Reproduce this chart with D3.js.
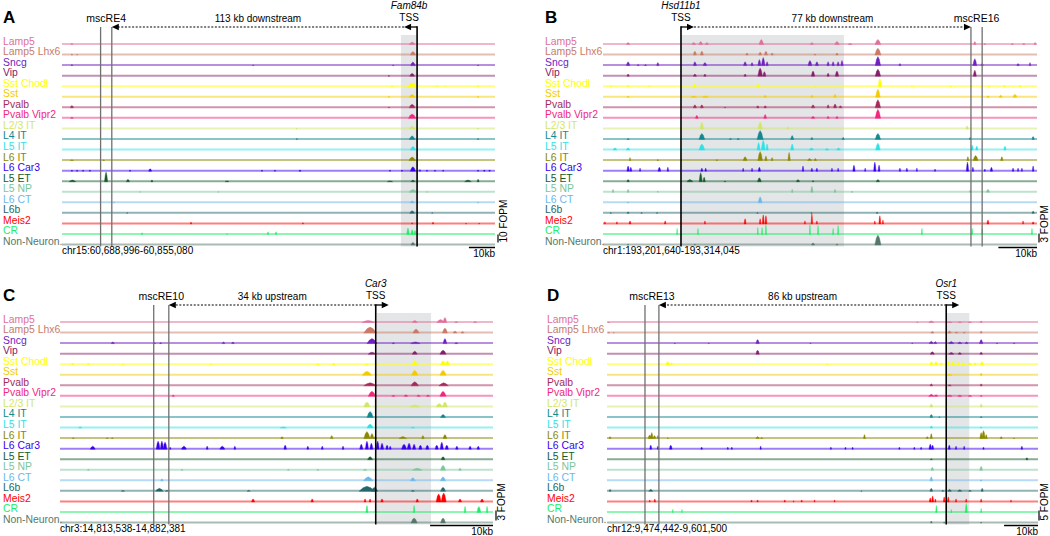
<!DOCTYPE html>
<html><head><meta charset="utf-8">
<script src="https://cdn.jsdelivr.net/npm/d3@7"></script>
<style>body{margin:0;background:#fff}svg{display:block}text{font-family:Arial,"Liberation Sans",sans-serif}</style>
</head><body><svg id="c" width="1050" height="536"></svg>
<script>
// ---------------- DATA ----------------
const trackNames = ["Lamp5","Lamp5 Lhx6","Sncg","Vip","Sst Chodl","Sst","Pvalb","Pvalb Vipr2","L2/3 IT","L4 IT","L5 IT","L6 IT","L6 Car3","L5 ET","L5 NP","L6 CT","L6b","Meis2","CR","Non-Neuron."];
const trackColors = ["#E0709A","#C97B68","#7020C0","#86206B","#FFFF00","#F2CC00","#A52A5A","#F0287F","#D2E66A","#13898E","#2EE3E8","#8A8800","#3A00EE","#135C2A","#7DC59A","#6CB8EC","#23676A","#FF0000","#1EEE64","#55786A"];
const panelLetters = ["A","B","C","D"];
const regionLabels = ["chr15:60,688,996-60,855,080","chr1:193,201,640-193,314,045","chr3:14,813,538-14,882,381","chr12:9,474,442-9,601,500"];
const regionStart = [60688996,193201640,14813538,9474442];
const regionEnd = [60855080,193314045,14882381,9601500];
const geneNames = ["Fam84b","Hsd11b1","Car3","Osr1"];
const tssKb = [136.2,20.2,50.2,100.0];
const geneStrand = [-1,1,1,1];
const mscreNames = ["mscRE4","mscRE16","mscRE10","mscRE13"];
const mscreKb = [[14.8,19.1],[95.3,98.2],[14.9,17.3],[11.2,15.3]];
const shadeKb = [[130.0,136.2],[20.2,62.4],[50.4,59.0],[100.0,106.8]];
const distanceLabels = ["113 kb downstream","77 kb downstream","34 kb upstream","86 kb upstream"];
const fopmScale = [10,3,3,5];
const scaleBarKb = 10;

// peaks: [position kb from region start, height FOPM, width kb]
const peaksA = {
"Lamp5":[[3.8,1.5,0.8],[134.3,3,2.2]],
"Lamp5 Lhx6":[[3.8,1.5,0.6],[5.8,1,0.5],[134.6,4.5,2]],
"Sncg":[[3.8,1.5,0.6],[73.3,1,0.5],[127,1,0.5],[134.6,4.5,1.8],[159.6,1,0.5]],
"Vip":[[125.4,1,0.5],[134.3,3.5,1.8]],
"Sst Chodl":[[126.6,1.5,0.6],[134.3,4.5,3.5],[143.9,1.5,0.6],[147,1,0.5],[159.6,1.5,0.6]],
"Sst":[[125.4,1.5,0.6],[134.3,3.5,2.2],[159.6,1.5,0.6]],
"Pvalb":[[3.8,3,1.2],[125.4,1,0.5],[134.3,4.5,2.2]],
"Pvalb Vipr2":[[3.8,1.5,1],[134.3,5.5,2.8]],
"L2/3 IT":[[90,1,0.5],[134.3,3.3,2.2],[159.6,1,0.5]],
"L4 IT":[[90.1,1.5,0.6],[134.3,4.5,2.2],[159.6,1.5,0.6]],
"L5 IT":[[134.6,4.5,2]],
"L6 IT":[[3.8,1,1.2],[16,1,0.6],[134.3,4.5,2.5]],
"L6 Car3":[[3.8,1.5,0.5],[5.8,1.5,0.5],[8.1,1.5,0.5],[10.7,1.5,0.5],[26.1,1.5,0.5],[33.8,3,1.2],[76.7,1.5,0.5],[81.7,1.5,0.5],[91.3,1.5,0.8],[125.8,1.5,0.4],[130.4,1.5,0.4],[134.6,5.5,2],[137.3,2,0.5],[140,1.5,0.4],[143.1,1.5,0.4],[146.2,1.5,0.4],[159.6,1.5,0.5],[162,1.5,0.5],[164,1.5,0.5]],
"L5 ET":[[4,2,2.5],[16.9,12,1.2],[25.3,3,1.2],[34.5,2,0.8],[63.3,1,1.5],[125.8,1,2],[134.6,2,1.5],[155.7,2,2.5],[159.6,3,0.8]],
"L5 NP":[[30,1,0.4],[60,1,0.4],[134.6,3.3,3],[140,1,0.4]],
"L6 CT":[[20,1,0.4],[134.3,2.2,1.5],[159.6,1,0.5]],
"L6b":[[25,1,0.4],[134.3,3.3,1.8],[142,1,0.4]],
"Meis2":[[49.5,2.2,0.6],[92.4,1.5,0.5],[134.3,1.5,0.5],[142.3,2.2,0.6],[155,1,0.4],[160,1,0.4]],
"CR":[[30.7,2.2,0.4],[63.3,1.2,0.3],[79,3.3,0.5],[82.1,3.3,0.5],[132.7,8,1],[134.3,6,1],[135.4,5,0.8]],
"Non-Neuron.":[[134.6,3.3,1.5]]
};
const peaksB = {
"Lamp5":[[6.5,0.7,0.8],[23.5,0.7,1],[25.3,1,1],[26.9,0.7,0.8],[41,1.7,1.2],[54.1,0.7,0.8],[60.6,1,1.2],[64,0.4,1],[71.2,1.7,1.5],[96.3,1,0.6],[98.9,0.4,0.4],[106,0.4,0.6],[109,0.4,0.6],[111.9,0.7,0.5]],
"Lamp5 Lhx6":[[23.8,1.3,0.8],[25.6,1.3,0.8],[37.3,0.7,0.6],[40.7,1,0.8],[42.2,1.3,0.8],[43.8,0.7,0.6],[54.9,0.4,0.5],[60.6,0.7,0.6],[71.2,2.3,1.6]],
"Sncg":[[6.5,1.3,0.9],[9.1,0.4,0.5],[11,0.4,0.5],[14.2,1,0.6],[23.8,1.3,0.8],[26.4,1,0.9],[36.8,1.3,0.8],[38.6,1,0.6],[40.5,2,0.8],[41.5,2.7,0.9],[42.5,1.3,0.6],[53.6,1.7,1],[55.4,1.3,0.8],[58.3,1.3,0.6],[59.6,1.3,0.6],[60.9,1.3,0.6],[61.9,1.7,0.6],[71.2,3,1.4],[76.9,0.7,0.5],[96.3,2.3,1],[98.2,0.7,0.6],[107.5,0.7,0.6],[110.6,1,0.4]],
"Vip":[[6.5,0.7,0.6],[23.8,0.7,0.8],[26.4,0.7,0.6],[36.8,0.7,0.6],[40.7,2.7,1.2],[41.8,1.5,0.8],[54.4,1.7,0.9],[58.3,1,0.6],[60.6,1.7,0.9],[71.2,2.3,1.4],[96.3,2,0.8]],
"Sst Chodl":[[2,0.4,0.4],[6.5,0.4,0.4],[12,0.3,0.4],[23.8,1,0.5],[40.1,1,0.6],[55,0.3,0.4],[71.7,2.7,0.9],[80,0.3,0.4],[90,0.3,0.4],[100,0.4,0.4],[104,0.4,0.4],[108,0.4,0.4]],
"Sst":[[6.5,0.4,0.6],[23.5,0.4,1.5],[26.5,0.4,1.5],[42,0.7,0.6],[54.1,0.7,0.6],[60.1,1,0.6],[71.2,2.7,1.2],[99.7,0.5,0.6],[103,0.7,0.8],[106.7,1,1]],
"Pvalb":[[23.8,1,0.8],[25.6,1,0.8],[31.6,0.3,0.4],[40.1,0.7,0.6],[42,0.7,0.6],[54.4,1,0.9],[58.3,1,0.6],[60.1,1.3,0.8],[61.5,0.7,0.6],[71.2,2.7,1.4]],
"Pvalb Vipr2":[[24.3,1,0.7],[42,1.3,0.7],[54.4,0.7,0.9],[58.3,0.7,0.6],[60.6,0.7,0.6],[71.2,3,1.4]],
"L2/3 IT":[[25.6,2.3,0.9],[40.7,2.3,1.2],[47.9,0.7,0.5],[94.3,1,0.6]],
"L4 IT":[[6.5,0.4,0.6],[25.6,2,1.5],[33,0.4,0.6],[35,0.4,0.6],[40.7,3,1.6],[49,1.3,0.8],[54.1,0.7,0.6],[62.2,0.7,0.6],[71.2,2,1.4],[95.1,0.7,0.5],[111.4,1,0.6]],
"L5 IT":[[3.1,0.7,1],[6.5,0.7,1],[25.6,2,1.5],[40.3,2.5,0.8],[41.5,3.3,1],[42.5,2,0.6],[49,2,0.8],[54,0.7,1],[58,0.5,1],[61,0.7,1],[71.2,2.3,1.2],[95.6,1.7,0.6],[96.8,1.3,0.6],[104.1,1.3,0.6]],
"L6 IT":[[7,1,0.4],[14.2,0.4,0.4],[29.5,0.4,0.4],[36.8,1.3,1],[40.7,3,1.2],[42.2,1.5,0.6],[43.8,1,0.5],[48.2,2.7,0.6],[53.5,0.7,1],[55,0.7,0.6],[94.5,1.3,0.5],[96.5,1.7,1.3],[103.3,1.3,0.6]],
"L6 Car3":[[6.5,1.7,0.6],[7.2,1.3,0.5],[9.6,1,0.3],[14.6,1.3,0.7],[16.8,1.3,0.4],[25.6,1,0.5],[26.6,1,0.4],[36.3,1,0.3],[38.6,1,0.3],[40.5,1.3,0.6],[51.8,1.7,0.4],[54.1,1,0.4],[55.4,1,0.4],[59.3,1,0.3],[60.9,1,0.3],[65,2,0.6],[67.9,1,0.3],[70.4,3,0.6],[71.5,2,0.5],[76.9,1,0.4],[78.7,1,0.4],[81.3,1,0.3],[86,0.7,0.3],[94.4,3,0.6],[95.8,1.3,0.4],[98.9,0.7,0.3],[100.6,1.3,0.6],[106.2,1,0.4],[107.5,1,0.3],[108.5,1,0.3],[111.4,1.7,0.4]],
"L5 ET":[[6.5,0.7,0.6],[22.5,0.7,1.5],[25.3,3,0.8],[26.2,1.5,0.6],[31.6,0.3,0.4],[40.5,1.3,1],[50.5,0.7,0.8],[54.4,0.4,0.4],[71.2,0.7,0.8]],
"L5 NP":[[2.6,1,0.4],[6.5,1,0.5],[14.2,0.4,0.3],[49,1,0.4],[54.1,2,0.6],[60.1,1,0.5],[64.5,0.4,0.4],[95.1,0.7,0.4],[99.7,1,0.8]],
"L6 CT":[[6.5,0.3,0.4],[40.7,2,1]],
"L6b":[[2,0.3,0.4],[6.5,0.5,0.5],[10,0.3,0.4],[14,0.3,0.4],[40,0.3,0.4],[54,0.3,0.4],[71,0.4,0.5],[111.4,0.7,0.6]],
"Meis2":[[0.5,0.7,0.3],[3.6,0.7,0.3],[7,1,0.5],[16.1,1,0.4],[26.4,1,0.3],[36.8,1.7,0.5],[40.7,1.7,0.4],[41.5,3,0.5],[42.2,2.7,0.5],[52.3,1,0.3],[54.1,3.3,0.4],[55.4,1,0.3],[70.4,1,0.3],[71.7,2.7,0.5],[72.5,1.3,0.3],[99.7,1.3,0.5],[108.8,1,0.3],[111.4,0.7,0.5]],
"CR":[[19.2,2,0.25],[24.6,2,0.25],[40.1,2.3,0.25],[41.2,2.3,0.25],[42.2,3.3,0.3],[53.6,3.3,0.3],[55.7,3,0.3],[59.6,2,0.25],[60.9,3,0.3],[82.6,2,0.25],[95.6,2,0.25],[98.2,2,0.25],[111.1,2,0.25]],
"Non-Neuron.":[[6.5,0.3,0.4],[23.8,0.3,0.4],[54.4,0.7,0.8],[60.6,0.4,0.5],[71.2,3.3,1.6]]
};
const peaksC = {
"Lamp5":[[49,0.6,2],[56.4,0.6,0.8],[60.5,0.9,1.2],[61.2,1.5,0.6],[63,0.3,0.5],[66,0.3,0.5]],
"Lamp5 Lhx6":[[49.3,1.8,2],[56.6,1.2,1],[61.2,1.5,0.8],[62.8,0.6,0.6],[64,0.5,0.5]],
"Sncg":[[8.4,0.5,0.5],[15,0.3,0.4],[16,0.3,0.3],[26,0.5,0.4],[27.5,0.5,0.4],[49.6,1.5,1.6],[53,0.3,0.4],[56.5,0.5,1.5],[61.2,1.5,0.6],[63,0.3,0.5]],
"Vip":[[49.6,0.6,1.2],[56.4,0.9,0.8],[60.9,1.2,1]],
"Sst Chodl":[[2,0.4,0.4],[4.5,0.4,0.4],[10,0.3,0.3],[24,0.3,0.3],[41,0.3,0.4],[43.5,0.4,0.4],[48.8,0.3,0.4],[56.4,1.2,0.8],[60.9,1.2,0.8],[61.6,1.2,0.6]],
"Sst":[[48.8,1.2,1.5],[56.4,1.5,1],[60.9,1.5,1]],
"Pvalb":[[49.3,0.9,2],[56.4,1.2,1.2],[61,0.9,1.5]],
"Pvalb Vipr2":[[18,0.4,0.4],[49.6,1.5,1.2],[53,0.3,0.5],[55,0.5,0.5],[57,0.4,0.5],[58.5,0.4,0.5],[60.9,1.5,1]],
"L2/3 IT":[[48.8,1.5,1],[56.4,0.6,1.5],[60.3,1,1],[61.2,1.5,0.8]],
"L4 IT":[[49.3,1.8,1],[60.9,0.9,0.8]],
"L5 IT":[[3.2,0.3,0.5],[35.5,0.3,1],[49.3,1.2,1],[56.1,0.3,0.5]],
"L6 IT":[[2.1,0.3,0.3],[7.5,0.3,0.3],[8.3,0.3,0.3],[35.3,0.6,0.4],[43.2,0.9,0.4],[48.8,2.1,1],[49.6,1.5,0.6],[50.1,0.6,0.4],[54.5,0.6,1.2],[57.7,0.9,0.4],[61.2,1.2,0.6]],
"L6 Car3":[[5.2,0.9,0.8],[15.6,2.4,0.6],[16.2,2.4,0.5],[16.7,2.1,0.6],[17.5,0.6,0.3],[19.7,0.9,0.8],[23.4,0.9,0.3],[25.8,0.9,0.8],[27.8,0.9,0.3],[35.8,1.2,0.4],[39.4,0.9,0.3],[41.7,0.9,0.3],[45,0.9,0.3],[47.9,1.5,0.5],[48.8,2.4,0.5],[49.5,1.8,0.5],[50.5,2.4,0.5],[51.2,1.8,0.5],[52,1.2,0.4],[52.5,0.9,0.3],[54.7,1.5,0.8],[55.5,1.8,0.6],[56.3,1.5,0.5],[57.3,1.2,0.5],[58.4,1.2,0.5],[59.9,1.2,0.5],[60.7,2.1,0.5],[61.5,1.2,0.5],[63.1,0.9,0.4],[65.2,0.9,0.4],[66.5,0.9,0.4]],
"L5 ET":[[49.3,0.9,0.8],[60.9,0.9,0.6]],
"L5 NP":[[4.5,0.3,0.3],[19.4,0.3,0.3],[36.3,0.3,0.3],[41,0.3,0.3],[48.5,0.3,0.5],[56.8,0.6,1.5],[60.9,1.5,0.8],[63.6,0.6,0.4]],
"L6 CT":[[16.2,0.6,0.4],[49,1.2,1.5],[56.1,0.9,0.8],[60.9,1.2,0.8]],
"L6b":[[10,0.3,0.5],[15.8,0.9,1.2],[17,0.3,0.5],[30,0.3,0.5],[48.8,1.5,2.5],[50,1.2,1],[56.1,0.3,0.5],[60.9,1.2,0.8]],
"Meis2":[[30.7,0.9,0.5],[40.1,0.9,0.4],[48.5,0.9,0.3],[49.3,0.9,0.3],[51.2,0.9,0.4],[56.8,0.9,0.4],[60.2,2.4,0.8],[61,2.7,0.8],[63.6,0.9,0.5],[67.1,0.9,0.5]],
"CR":[[48.8,2.1,0.3],[56.3,2.1,0.25],[64.4,1.8,0.25],[66.6,1.8,0.6],[67.9,1.8,0.25]],
"Non-Neuron.":[[56.3,1.5,1],[60.9,1.5,0.8]]
};
const peaksD = {
"Lamp5":[[0.5,0.3,0.5],[91.5,0.4,0.4],[95.6,0.8,1.5],[101,0.4,1.5],[104,0.4,1],[107,0.4,1],[110.3,0.8,0.6]],
"Lamp5 Lhx6":[[0.5,0.4,0.5],[2,0.3,0.4],[95.9,0.8,1],[101,1,1],[103,0.5,0.8],[105.3,0.5,0.6],[110.3,1,0.6]],
"Sncg":[[20,0.3,0.4],[30,0.3,0.4],[44.4,2,1],[60,0.3,0.4],[90,0.3,0.4],[95.6,1.2,1.2],[96.8,1,0.8],[101.5,1,1.5],[104,0.8,1.2],[106,0.8,0.8],[110.3,2,1],[115,0.4,0.4],[120,0.4,0.4]],
"Vip":[[44.4,2,1],[95.9,1.2,1.2],[101.5,0.8,1.5],[104,0.8,1],[110.3,1,0.8]],
"Sst Chodl":[[17.9,1.5,1],[19,0.8,0.6],[65,0.4,0.6],[95.6,1.5,0.8],[97,1.5,0.8],[98.5,1,0.6],[100.5,1.8,0.8],[102,1.5,0.8],[103.5,1.2,0.8],[105,1.2,0.8],[107,1,0.8],[108.5,1,0.6],[110.5,1.5,0.8]],
"Sst":[[101,0.5,1.5],[110.3,1,0.6]],
"Pvalb":[[95.6,1,0.8],[101,0.5,1],[110.3,1,0.6]],
"Pvalb Vipr2":[[95.6,1,1.5],[97,0.8,1],[101,0.6,1.5],[104,0.5,1.2],[107,0.5,1],[110.3,0.5,0.6]],
"L2/3 IT":[[95.6,1.5,0.8],[110.3,1.5,0.6]],
"L4 IT":[[95.6,1.5,0.8],[98,0.4,0.5],[110.3,0.5,0.6]],
"L5 IT":[[95.6,1,0.8],[110.3,0.5,0.6]],
"L6 IT":[[0.9,1,0.6],[12.6,1.8,1],[13.2,3,0.8],[14,1.5,0.8],[15,1.5,0.6],[17.9,0.5,0.4],[44.4,1,1],[45.6,0.6,0.6],[75.9,2,0.6],[94.4,1,0.6],[95.6,2.5,0.6],[110.3,3,0.8],[111,4,1],[111.8,2,0.6],[116.2,1,0.6],[120,0.4,0.4]],
"L6 Car3":[[12.9,2,0.6],[15,1.5,0.4],[18.8,2,0.8],[27.9,1,0.5],[35.6,1,0.4],[36.8,1,0.4],[45.3,1.5,0.4],[66,1,0.4],[70.3,1,0.4],[72.4,1,0.4],[86.2,1,0.4],[90.6,1,0.4],[92.6,1,0.4],[95.3,2.5,0.8],[96,2,0.6],[100.9,2,0.6],[102.9,1.5,0.4],[105.3,1.5,0.4],[111,1,0.4],[122.3,1.5,0.5]],
"L5 ET":[[95.6,0.5,0.6],[123.8,1,0.6]],
"L5 NP":[[95.9,1.5,0.8],[100,0.4,0.4],[110.3,2,0.8]],
"L6 CT":[[95.6,2,0.8],[110.3,0.5,0.5]],
"L6b":[[0.9,1,0.6],[12.9,1,1.2],[75,0.3,0.4],[95.6,1.5,0.8],[99,0.5,0.6],[101,1,1],[104,0.8,1.2],[107,0.6,0.8],[110.6,1.5,0.6]],
"Meis2":[[12.6,1,0.3],[14.1,1.5,0.4],[42.6,1,0.4],[44.4,1,0.4],[52.4,1,0.4],[55,0.6,0.3],[57.4,1,0.4],[61.2,1,0.3],[67.1,1,0.3],[95.3,2,0.6],[96,3,0.6],[96.8,1.5,0.4],[99.4,2.5,0.5],[100.6,2.5,0.5],[102.9,1.5,0.4],[105.9,1.5,0.4],[110.3,1.5,0.4],[119.1,1,0.3]],
"CR":[[19.4,1.5,0.2],[22.1,1.5,0.2],[97.1,3.5,0.4],[101.5,1.5,0.25],[105.9,4.5,0.6],[110.3,2,0.3]],
"Non-Neuron.":[[95.6,1,0.5],[99.4,0.5,0.4],[110.3,0.5,0.4]]
};
const panelPeaks = [peaksA,peaksB,peaksC,peaksD];

// ---------------- LAYOUT ----------------
const layout = [
  {lx:3,   x0:62,  x1:495,  dy:0,   barPx:8},
  {lx:545, x0:603, x1:1037, dy:0,   barPx:9},
  {lx:3,   x0:60,  x1:493,  dy:278, barPx:10},
  {lx:547, x0:607, x1:1038, dy:278, barPx:10}
];
const trackTop = 44, trackBottom = 244.5;
const svg = d3.select("#c");

function arrowHead(g, tipX, yy, dir){
  g.append("path")
    .attr("d", `M${tipX},${yy} L${tipX - dir*7},${yy-3.2} L${tipX - dir*7},${yy+3.2} Z`)
    .attr("fill","#000");
}

panelLetters.forEach((letter, p) => {
  const L = layout[p];
  const g = svg.append("g").attr("transform", `translate(0,${L.dy})`);
  const lenKb = (regionEnd[p] - regionStart[p]) / 1000;
  const x = d3.scaleLinear().domain([0, lenKb]).range([L.x0, L.x1]);
  const ty = d3.scaleLinear().domain([0, trackNames.length - 1]).range([trackTop, trackBottom]);
  const yv = d3.scaleLinear().domain([0, fopmScale[p]]).range([0, L.barPx]);
  const lastY = ty(trackNames.length - 1);

  g.append("rect")
    .attr("x", x(shadeKb[p][0])).attr("y", 35)
    .attr("width", x(shadeKb[p][1]) - x(shadeKb[p][0]))
    .attr("height", lastY + 2 - 35)
    .attr("fill", "#e4e5e7");

  trackNames.forEach((name, i) => {
    const base = ty(i);
    const col = trackColors[i];
    g.append("line").attr("x1", L.x0).attr("x2", L.x1).attr("y1", base).attr("y2", base)
      .attr("stroke", col).attr("stroke-width", 2).attr("stroke-opacity", 0.5);
    const area = d3.area().x(d => x(d[0])).y0(base + 0.5).y1(d => base + 0.5 - yv(d[1]));
    const pk = panelPeaks[p][name] || [];
    g.append("g").selectAll("path").data(pk).join("path")
      .attr("d", d => {
        const [c, h, w] = d;
        return area([[c - w/2, 0], [c - w/4, h*0.7], [c, h], [c + w/4, h*0.7], [c + w/2, 0]]);
      })
      .attr("fill", col)
      .attr("stroke", col).attr("stroke-width", 0.4);
    g.append("text").attr("x", L.lx).attr("y", base + 0.5)
      .attr("font-size", 10.4).attr("fill", col).text(name);
  });

  mscreKb[p].forEach(k => {
    g.append("line").attr("x1", x(k)).attr("x2", x(k)).attr("y1", 27).attr("y2", lastY + 2)
      .attr("stroke", "#707070").attr("stroke-width", 1.3);
  });
  const mMid = (x(mscreKb[p][0]) + x(mscreKb[p][1])) / 2;
  g.append("text").attr("x", mMid).attr("y", 21.5).attr("text-anchor", "middle")
    .attr("font-size", 10.5).text(mscreNames[p]);

  const tx = x(tssKb[p]);
  const s = geneStrand[p];
  g.append("line").attr("x1", tx).attr("x2", tx).attr("y1", 26.3).attr("y2", lastY + 2)
    .attr("stroke", "#000").attr("stroke-width", 1.6);
  const tipX = tx + s * 13;
  g.append("line").attr("x1", tx).attr("x2", tipX - s*5).attr("y1", 27).attr("y2", 27)
    .attr("stroke", "#000").attr("stroke-width", 1.3);
  arrowHead(g, tipX, 27, s);

  const mLeft = mscreKb[p][1] < tssKb[p];
  const nearX = mLeft ? x(mscreKb[p][1]) : x(mscreKb[p][0]);
  const dir = mLeft ? -1 : 1;
  const startX = (s === dir) ? tipX : tx;
  g.append("line").attr("x1", startX).attr("x2", nearX - dir*6).attr("y1", 27).attr("y2", 27)
    .attr("stroke", "#000").attr("stroke-width", 1.2).attr("stroke-dasharray", "2,1.6");
  arrowHead(g, nearX, 27, dir);
  g.append("text").attr("x", (startX + nearX) / 2).attr("y", 21.5).attr("text-anchor", "middle")
    .attr("font-size", 10).text(distanceLabels[p]);

  const gx = tx + (s < 0 ? -8 : 0);
  g.append("text").attr("x", gx).attr("y", 8.5).attr("text-anchor", "middle")
    .attr("font-size", 10).attr("font-style", "italic").text(geneNames[p]);
  g.append("text").attr("x", gx).attr("y", 20.5).attr("text-anchor", "middle")
    .attr("font-size", 10).text("TSS");

  g.append("text").attr("x", L.lx).attr("y", 22.5).attr("font-size", 17).attr("font-weight", "bold").text(letter);

  g.append("text").attr("x", L.x0).attr("y", lastY + 9).attr("font-size", 10).text(regionLabels[p]);

  const barW = x(scaleBarKb) - x(0);
  g.append("line").attr("x1", L.x1 - barW).attr("x2", L.x1).attr("y1", lastY + 3).attr("y2", lastY + 3)
    .attr("stroke", "#000").attr("stroke-width", 1.5);
  g.append("text").attr("x", L.x1).attr("y", lastY + 12).attr("text-anchor", "end")
    .attr("font-size", 10).text(scaleBarKb + "kb");

  const fb = lastY - 2;
  const fx = Math.min(L.x1 + 12, 1048);
  g.append("line").attr("x1", fx - 9).attr("x2", fx - 9).attr("y1", fb).attr("y2", fb - yv(fopmScale[p]))
    .attr("stroke", "#000").attr("stroke-width", 1.2);
  g.append("text").attr("transform", `translate(${fx},${fb}) rotate(-90)`)
    .attr("font-size", 10).text(fopmScale[p] + " FOPM");
});
</script></body></html>
